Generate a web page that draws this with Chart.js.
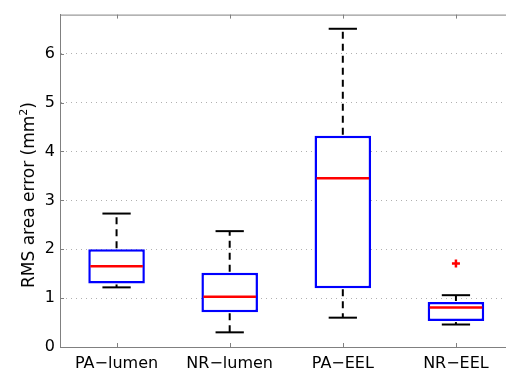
<!DOCTYPE html>
<html>
<head>
<meta charset="utf-8">
<script src="https://cdn.jsdelivr.net/npm/chart.js@4.4.0/dist/chart.umd.min.js"></script>
<style>
html, body { margin: 0; padding: 0; background: #fff; overflow: hidden; }
#finestra { width: 506px; height: 377px; overflow: hidden; }
#contenitore { position: relative; width: 519px; height: 377px; }
#titoloY {
    position: absolute; left: 28px; top: 195px;
    transform: translate(-50%, -50%) rotate(-90deg);
    white-space: nowrap; font: 17px "DejaVu Sans"; color: #000; line-height: 20px;
}
#titoloY sup { font-size: 11px; line-height: 0; vertical-align: 7px; }
</style>
</head>
<body>
<div id="finestra">
<div id="contenitore">
    <canvas id="grafico" width="519" height="377"></canvas>
    <div id="titoloY">RMS area error (mm<sup>2</sup>)</div>
</div>
</div>
<script>
// Dati
const categorie = ['PA\u2212lumen', 'NR\u2212lumen', 'PA\u2212EEL', 'NR\u2212EEL'];
const baffoBasso = [1.22, 0.30, 0.60, 0.46];
const quartile1 = [1.30, 0.71, 1.20, 0.53];
const mediana = [1.65, 1.03, 3.45, 0.81];
const quartile3 = [2.00, 1.52, 4.32, 0.92];
const baffoAlto = [2.73, 2.37, 6.51, 1.06];
const anomali = [null, null, null, 1.71];
const tickY = [0, 1, 2, 3, 4, 5, 6];

const GRIGIO = '#808080';

// Baffi, mediane, cornice e tacche interne (stile MATLAB)
const pluginBoxplot = {
    id: 'boxplot',
    afterDatasetsDraw(chart) {
        const { ctx, chartArea, scales: { x, y } } = chart;
        const barre = chart.getDatasetMeta(0).data;

        function linea(x1, y1, x2, y2) {
            ctx.beginPath();
            ctx.moveTo(x1, y1);
            ctx.lineTo(x2, y2);
            ctx.stroke();
        }

        ctx.save();
        // cornice superiore e tacche
        ctx.strokeStyle = GRIGIO;
        ctx.lineWidth = 1;
        linea(chartArea.left, chartArea.top + 0.5, chartArea.right, chartArea.top + 0.5);
        linea(chartArea.right - 0.5, chartArea.top, chartArea.right - 0.5, chartArea.bottom);
        categorie.forEach((c, i) => {
            const cx = Math.round(x.getPixelForValue(i)) + 0.5;
            linea(cx, chartArea.top, cx, chartArea.top + 4);
            linea(cx, chartArea.bottom, cx, chartArea.bottom - 4);
        });
        tickY.forEach(v => {
            const py = Math.round(y.getPixelForValue(v)) + 0.5;
            linea(chartArea.left, py, chartArea.left + 4, py);
        });

        categorie.forEach((c, i) => {
            const cx = x.getPixelForValue(i);
            const meta = barre[i].width / 2;
            const yQ1 = y.getPixelForValue(quartile1[i]);
            const yQ3 = y.getPixelForValue(quartile3[i]);
            const yMin = y.getPixelForValue(baffoBasso[i]);
            const yMax = y.getPixelForValue(baffoAlto[i]);
            const yMed = y.getPixelForValue(mediana[i]);

            // baffi tratteggiati
            ctx.strokeStyle = '#000';
            ctx.lineWidth = 2;
            ctx.setLineDash([7, 5]);
            linea(cx, yQ3 - 1, cx, yMax);
            linea(cx, yQ1 + 1, cx, yMin);
            ctx.setLineDash([]);
            // estremi dei baffi
            linea(cx - meta / 2, yMax, cx + meta / 2, yMax);
            linea(cx - meta / 2, yMin, cx + meta / 2, yMin);
            // mediana
            ctx.strokeStyle = '#ff0000';
            ctx.lineWidth = 2.5;
            linea(cx - meta + 2, yMed, cx + meta - 2, yMed);
        });
        ctx.restore();
    }
};

const ctx = document.getElementById('grafico').getContext('2d');
const grafico = new Chart(ctx, {
    type: 'bar',
    data: {
        labels: categorie,
        datasets: [
            {
                // scatole dal primo al terzo quartile
                data: quartile1.map((q, i) => [q, quartile3[i]]),
                backgroundColor: '#ffffff',
                borderColor: '#0000ff',
                borderWidth: 2.5,
                borderSkipped: false,
                barPercentage: 0.5,
                categoryPercentage: 1
            },
            {
                type: 'line',
                data: anomali,
                showLine: false,
                pointStyle: 'cross',
                pointRadius: 4,
                borderColor: '#ff0000',
                backgroundColor: '#ff0000',
                borderWidth: 2.5
            }
        ]
    },
    options: {
        responsive: false,
        animation: false,
        events: [],
        layout: { padding: { left: 0, top: 12, right: 2, bottom: 0 } },
        plugins: {
            legend: { display: false },
            tooltip: { enabled: false }
        },
        scales: {
            x: {
                grid: { display: false, drawTicks: false },
                border: { display: true, color: GRIGIO, width: 1 },
                ticks: { color: '#000', padding: 7, font: { family: 'DejaVu Sans', size: 16 } },
                afterFit: s => { s.height = 30; }
            },
            y: {
                min: 0,
                max: 6.8,
                grid: { color: '#b0b0b0', drawTicks: false },
                border: { display: true, color: GRIGIO, width: 1, dash: [1, 4] },
                ticks: {
                    stepSize: 1,
                    includeBounds: false,
                    color: '#000',
                    padding: 5,
                    font: { family: 'DejaVu Sans', size: 16 }
                },
                afterFit: s => { s.width = 60; }
            }
        }
    },
    plugins: [pluginBoxplot]
});
</script>
</body>
</html>
